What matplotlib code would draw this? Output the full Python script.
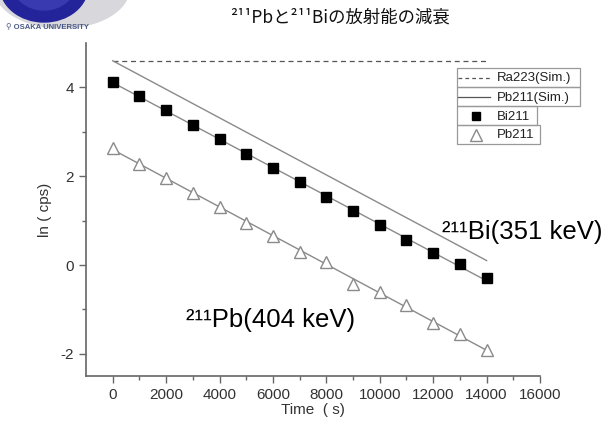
import numpy as np
import matplotlib
matplotlib.use("Agg")
import matplotlib.pyplot as plt
from matplotlib.patches import Ellipse, Rectangle
from matplotlib.lines import Line2D

plt.rcParams['font.family'] = ['Liberation Sans', 'DejaVu Sans']
plt.rcParams['axes.unicode_minus'] = False

'''---Data---'''
time = [0, 1000, 2000, 3000, 4000, 5000, 6000, 7000,
        8000, 9000, 10000, 11000, 12000, 13000, 14000]
bi211 = [4.13, 3.81, 3.49, 3.16, 2.83, 2.50, 2.18, 1.86,
         1.53, 1.21, 0.89, 0.56, 0.28, 0.02, -0.30]
pb211 = [2.63, 2.28, 1.97, 1.63, 1.31, 0.95, 0.65, 0.30,
         0.07, -0.42, -0.61, -0.89, -1.30, -1.56, -1.92]
sim_time = [0, 14000]
ra223_sim = [4.6, 4.6]
pb211_sim = [4.6, 0.1]

xticks = [0, 2000, 4000, 6000, 8000, 10000, 12000, 14000, 16000]
yticks = [-2, 0, 2, 4]

W, H = 615, 430
gray = "#8a8a8a"
dark = "#333333"

def px(x, y):
    #pixel coords (from top left) -> figure fraction
    return x / W, 1 - y / H

fig = plt.figure(figsize=(W / 100, H / 100), dpi=100)
ax = fig.add_axes([86 / W, 1 - 376 / H, (540 - 86) / W, (376 - 43) / H])

t = np.array(time)
bi_fit = np.polyfit(t, bi211, 1)
pb_fit = np.polyfit(t, pb211, 1)

ax.plot(sim_time, ra223_sim, '--', color="#555555", lw=0.9, dashes=(4, 3))
ax.plot(sim_time, pb211_sim, '-', color=gray, lw=1.0)
ax.plot(t, np.polyval(bi_fit, t), '-', color=gray, lw=1.0)
ax.plot(t, np.polyval(pb_fit, t), '-', color=gray, lw=1.0)
ax.plot(t, bi211, 's', color="black", ms=7, mec="black")
ax.plot(t, pb211, '^', color=gray, mfc="white", mec=gray, ms=9, mew=1.0)

ax.set_xlim(-1000, 16000)
ax.set_ylim(-2.5, 5.0)
ax.set_xticks(xticks)
ax.set_yticks(yticks)
ax.set_xticks(np.arange(1000, 16000, 2000), minor=True)
ax.set_yticks([-1, 1, 3], minor=True)
for s in ['top', 'right']:
    ax.spines[s].set_visible(False)
for s in ['left', 'bottom']:
    ax.spines[s].set_color("#666666")
    ax.spines[s].set_linewidth(1.2)
ax.tick_params(which='major', direction='out', length=5, width=1, color="#666666",
               labelsize=11, labelcolor=dark)
ax.tick_params(which='minor', direction='out', length=3, width=1, color="#666666")
ax.set_xlabel("Time  ( s)", fontsize=11, color=dark, labelpad=1)
ax.set_ylabel("ln ( cps)", fontsize=11, color=dark, labelpad=6)

ax.text(442 / W, 1 - 232 / H, "²¹¹Bi(351 keV)", transform=fig.transFigure,
        fontsize=18.5, va='center', ha='left', color="black")
ax.text(186 / W, 1 - 320 / H, "²¹¹Pb(404 keV)", transform=fig.transFigure,
        fontsize=18.5, va='center', ha='left', color="black")

'''---Legend (Origin style boxes)---'''
rows = [(68, 87, 580, 'dash', "Ra223(Sim.)"),
        (87, 106, 580, 'line', "Pb211(Sim.)"),
        (106, 125, 537, 'square', "Bi211"),
        (125, 144, 540, 'tri', "Pb211")]
for y0, y1, xr, kind, label in rows:
    x0, yb = px(457, y1)
    fig.add_artist(Rectangle((x0, yb), (xr - 457) / W, (y1 - y0) / H,
                             transform=fig.transFigure, fill=False,
                             ec="#999999", lw=0.9))
    ym = (y0 + y1) / 2
    if kind == 'dash':
        fig.add_artist(Line2D([458 / W, 490 / W], [1 - ym / H] * 2, ls='--',
                              dashes=(3, 2.5), color="#555555", lw=0.9,
                              transform=fig.transFigure))
    elif kind == 'line':
        fig.add_artist(Line2D([458 / W, 490 / W], [1 - ym / H] * 2,
                              color="#555555", lw=0.9, transform=fig.transFigure))
    elif kind == 'square':
        fig.add_artist(Line2D([476 / W], [1 - ym / H], marker='s', ms=6,
                              color="black", transform=fig.transFigure))
    else:
        fig.add_artist(Line2D([476 / W], [1 - ym / H], marker='^', ms=8,
                              mfc="white", mec=gray, transform=fig.transFigure))
    fig.text(497 / W, 1 - (ym + 1) / H, label, fontsize=9.5, va='center',
             ha='left', color="#222222")

'''---Title and logo---'''
fig.text(340 / W, 1 - 18 / H, "²¹¹Pbと²¹¹Biの放射能の減衰", fontsize=12.5,
         ha='center', va='center', color="#111111",
         family=['Noto Sans CJK JP', 'DejaVu Sans'])

fig.add_artist(Ellipse(px(62, -12), 135 / W, 80 / H, transform=fig.transFigure,
                       color="#d8d8dc", zorder=0))
fig.add_artist(Ellipse(px(44, -14), 88 / W, 72 / H, transform=fig.transFigure,
                       color="#24249a", zorder=1))
fig.add_artist(Ellipse(px(44, -18), 64 / W, 56 / H, transform=fig.transFigure,
                       color="#3a3ab0", zorder=1))
fig.text(6 / W, 1 - 28 / H, "⚲ OSAKA UNIVERSITY", fontsize=5.5, weight='bold',
         color="#4a5a86", ha='left', va='center')

plt.savefig("out.png", dpi=100)
